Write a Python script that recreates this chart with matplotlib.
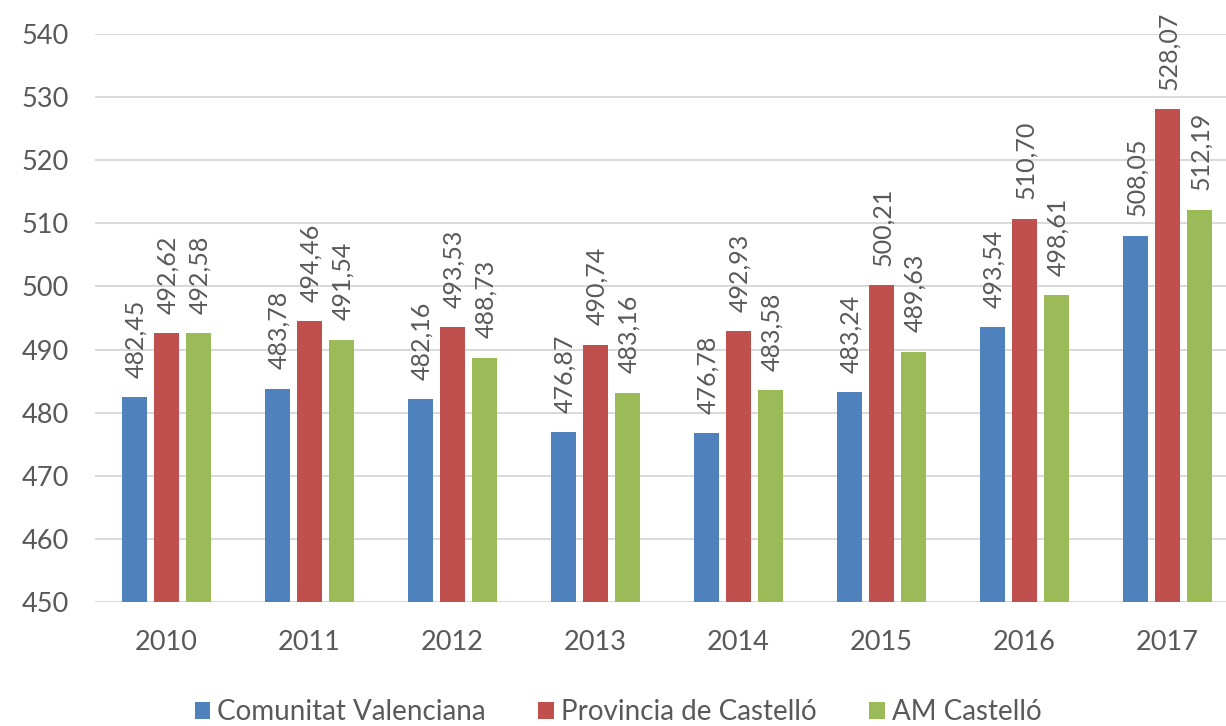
import matplotlib
matplotlib.use("Agg")
import matplotlib.pyplot as plt
import numpy as np

plt.rcParams['font.family'] = ['Lato', 'DejaVu Sans']

years = ['2010', '2011', '2012', '2013', '2014', '2015', '2016', '2017']
series_names = ['Comunitat Valenciana', 'Provincia de Castelló', 'AM Castelló']
comunitat = [482.45, 483.78, 482.16, 476.87, 476.78, 483.24, 493.54, 508.05]
provincia = [492.62, 494.46, 493.53, 490.74, 492.93, 500.21, 510.70, 528.07]
am_castello = [492.58, 491.54, 488.73, 483.16, 483.58, 489.63, 498.61, 512.19]
colors = ['#4F81BD', '#C0504D', '#9BBB59']
y_ticks = [450, 460, 470, 480, 490, 500, 510, 520, 530, 540]

text_color = '#595959'
grid_color = '#D9D9D9'

W, H = 1226, 726
fig = plt.figure(figsize=(W / 100, H / 100), dpi=100)
# plot area in pixels: left 95, bottom at y=602, top at y=34, slot width ~143
ax = fig.add_axes([95 / W, (H - 602) / H, 1144 / W, 568 / H])

x = np.arange(len(years))
bar_w = 0.177
step = 0.224
base = 450

for i, (vals, col, name) in enumerate(zip([comunitat, provincia, am_castello], colors, series_names)):
    pos = x + (i - 1) * step
    heights = [v - base for v in vals]
    ax.bar(pos, heights, bottom=base, width=bar_w, color=col, label=name, zorder=3)
    for p, v in zip(pos, vals):
        ax.annotate(f"{v:.2f}".replace('.', ','), xy=(p, v), xytext=(1, 14),
                    textcoords='offset points', rotation=90, ha='center', va='bottom',
                    fontsize=18, color=text_color, zorder=4)

ax.set_xlim(-0.5, len(years) - 0.5)
ax.set_ylim(450, 540)
ax.set_yticks(y_ticks)
ax.set_yticklabels([str(t) for t in y_ticks])
ax.set_xticks(x)
ax.set_xticklabels(years)
ax.tick_params(axis='both', length=0, labelsize=19.5, colors=text_color)
ax.tick_params(axis='y', pad=19)
ax.tick_params(axis='x', pad=20)

ax.grid(axis='y', color=grid_color, linewidth=1.4, zorder=0)
for s in ax.spines.values():
    s.set_visible(False)

handles, labels = ax.get_legend_handles_labels()
fig.legend(handles, labels, loc='center', bbox_to_anchor=(618 / W, 1 - 712 / H),
           ncol=3, frameon=False, fontsize=20, handlelength=0.56, handleheight=0.56,
           handletextpad=0.25, columnspacing=1.9, labelcolor=text_color)

fig.savefig('out.png', dpi=100, facecolor='white')
